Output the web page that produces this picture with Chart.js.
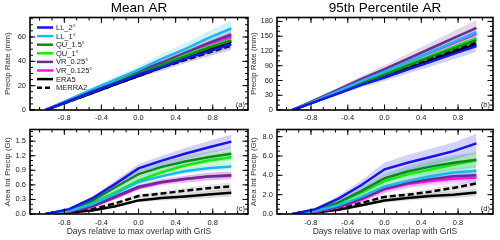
<!DOCTYPE html>
<html>
<head>
<meta charset="utf-8">
<script src="https://cdn.jsdelivr.net/npm/chart.js@4.4.1/dist/chart.umd.min.js"></script>
<style>
  body { margin: 0; width: 500px; height: 240px; background: #fff; position: relative; overflow: hidden; }
  .panel { position: absolute; }
</style>
</head>
<body>
<div class="panel" style="left:0;top:0;width:250px;height:121px"><canvas id="panelA"></canvas></div>
<div class="panel" style="left:246px;top:0;width:254px;height:121px"><canvas id="panelB"></canvas></div>
<div class="panel" style="left:0;top:121px;width:250px;height:119px"><canvas id="panelC"></canvas></div>
<div class="panel" style="left:246px;top:121px;width:254px;height:119px"><canvas id="panelD"></canvas></div>
<script>
// days relative to max overlap (x values of every series)
const days = [-1, -0.75, -0.5, -0.25, 0, 0.25, 0.5, 0.75, 1];

const seriesNames = ['LL_2°', 'LL_1°', 'QU_1.5°', 'QU_1°', 'VR_0.25°', 'VR_0.125°', 'ERA5', 'MERRA2'];
const seriesColors = ['#1414f0', '#18b8f2', '#0a8a1e', '#10ee10', '#6a2c8e', '#ff10ff', '#000000', '#000000'];
const bandColors = [
  'rgba(80,80,240,0.26)', 'rgba(40,190,245,0.22)', 'rgba(20,150,70,0.22)', 'rgba(40,240,40,0.2)',
  'rgba(130,70,170,0.22)', 'rgba(255,60,255,0.2)', 'rgba(0,0,0,0.14)', 'rgba(0,0,0,0.1)'
];

// (a) mean AR precip rate (mm)
const meanRate = [
  [0, 7.5, 15, 22, 29, 35, 42, 48, 54],
  [0, 8.5, 17, 25, 33, 42, 50, 59, 67],
  [0, 7.5, 15, 22, 30, 37, 44, 51, 57],
  [0, 7.5, 15, 23, 30, 37, 45, 52, 58],
  [0, 8, 16, 24, 32, 39, 47, 55, 62],
  [0, 8, 16, 24, 31, 38, 46, 53, 60],
  [0, 7, 14, 21, 28, 35, 42, 49, 56],
  [0, 7, 14, 21, 28, 35, 41, 47, 53]
];
const spreadRate = [
  [0, 0.6, 1.2, 1.8, 2.4, 3, 3.6, 4.2, 4.8],
  [0, 0.8, 1.6, 2.4, 3.2, 4, 4.8, 5.6, 6.4],
  [0, 0.4, 0.8, 1.2, 1.6, 2, 2.4, 2.8, 3.2],
  [0, 0.4, 0.9, 1.3, 1.8, 2.2, 2.6, 3, 3.4],
  [0, 0.6, 1.1, 1.7, 2.3, 2.9, 3.4, 4, 4.6],
  [0, 0.5, 1, 1.5, 2, 2.5, 3, 3.5, 4],
  [0, 0.3, 0.6, 0.9, 1.2, 1.5, 1.8, 2.1, 2.4],
  [0, 0.3, 0.6, 0.9, 1.2, 1.5, 1.8, 2.1, 2.4]
];

// (b) 95th percentile AR precip rate (mm)
const p95Rate = [
  [0, 17, 34, 51, 66, 82, 98, 114, 130],
  [0, 19, 39, 59, 78, 98, 118, 138, 158],
  [0, 18, 37, 55, 72, 90, 108, 125, 142],
  [0, 18, 37, 56, 74, 92, 110, 128, 146],
  [0, 21, 42, 63, 83, 104, 125, 146, 167],
  [0, 19, 39, 59, 78, 98, 117, 136, 155],
  [0, 17, 35, 52, 67, 84, 101, 118, 134],
  [0, 18, 37, 55, 71, 88, 105, 122, 138]
];
const spreadP95Rate = [
  [0, 2, 4, 5, 7, 8, 10, 11, 12],
  [0, 1, 2, 3, 4, 5, 6, 7, 8],
  [0, 1, 2, 3, 4, 5, 6, 6, 7],
  [0, 1, 2, 3, 4, 5, 6, 6, 7],
  [0, 2, 4, 6, 8, 10, 12, 14, 16],
  [0, 1, 2, 3, 4, 5, 6, 7, 8],
  [0, 1, 2, 2, 3, 4, 5, 5, 6],
  [0, 1, 2, 2, 3, 4, 5, 5, 6]
];

// (c) mean AR area integrated precip (Gt)
const meanArea = [
  [0, 0.1, 0.32, 0.62, 0.94, 1.1, 1.24, 1.37, 1.49],
  [0, 0.06, 0.2, 0.42, 0.66, 0.78, 0.88, 0.94, 0.98],
  [0, 0.08, 0.27, 0.55, 0.82, 0.97, 1.08, 1.17, 1.24],
  [0, 0.07, 0.22, 0.45, 0.69, 0.86, 1.0, 1.1, 1.17],
  [0, 0.05, 0.16, 0.36, 0.56, 0.66, 0.72, 0.77, 0.8],
  [0, 0.05, 0.15, 0.34, 0.54, 0.65, 0.72, 0.77, 0.79],
  [0, 0.03, 0.07, 0.16, 0.28, 0.33, 0.36, 0.4, 0.44],
  [0, 0.04, 0.1, 0.22, 0.37, 0.42, 0.48, 0.53, 0.57]
];
const spreadMeanArea = [
  [0, 0.02, 0.04, 0.07, 0.09, 0.1, 0.12, 0.13, 0.14],
  [0, 0.01, 0.02, 0.03, 0.04, 0.05, 0.05, 0.06, 0.06],
  [0, 0.02, 0.04, 0.06, 0.08, 0.1, 0.11, 0.12, 0.13],
  [0, 0.02, 0.04, 0.06, 0.08, 0.1, 0.11, 0.12, 0.13],
  [0, 0.01, 0.02, 0.04, 0.05, 0.06, 0.07, 0.08, 0.08],
  [0, 0.01, 0.02, 0.04, 0.05, 0.06, 0.07, 0.08, 0.08],
  [0, 0.01, 0.02, 0.03, 0.04, 0.05, 0.06, 0.07, 0.08],
  [0, 0.01, 0.02, 0.03, 0.04, 0.05, 0.06, 0.07, 0.08]
];

// (d) 95th percentile AR area integrated precip (Gt)
const p95Area = [
  [0, 0.5, 1.6, 3.0, 4.62, 5.3, 5.9, 6.5, 7.3],
  [0, 0.3, 0.9, 1.8, 2.85, 3.4, 3.9, 4.3, 4.47],
  [0, 0.4, 1.2, 2.4, 3.7, 4.4, 4.9, 5.3, 5.6],
  [0, 0.45, 1.15, 2.2, 3.4, 4.1, 4.6, 5.1, 5.55],
  [0, 0.25, 0.75, 1.6, 2.6, 3.2, 3.6, 3.9, 4.0],
  [0, 0.2, 0.7, 1.5, 2.54, 3.1, 3.4, 3.65, 3.78],
  [0, 0.15, 0.45, 0.9, 1.4, 1.65, 1.85, 2.0, 2.23],
  [0, 0.2, 0.6, 1.15, 1.77, 2.0, 2.3, 2.7, 3.16]
];
const spreadP95Area = [
  [0, 0.1, 0.3, 0.5, 0.7, 0.8, 0.85, 0.9, 1.0],
  [0, 0.05, 0.1, 0.2, 0.3, 0.35, 0.4, 0.45, 0.5],
  [0, 0.1, 0.2, 0.4, 0.5, 0.6, 0.7, 0.75, 0.8],
  [0, 0.1, 0.2, 0.4, 0.5, 0.6, 0.7, 0.75, 0.8],
  [0, 0.05, 0.15, 0.3, 0.4, 0.45, 0.5, 0.55, 0.6],
  [0, 0.05, 0.15, 0.3, 0.4, 0.45, 0.5, 0.55, 0.6],
  [0, 0.03, 0.08, 0.15, 0.2, 0.25, 0.3, 0.35, 0.4],
  [0, 0.03, 0.08, 0.15, 0.2, 0.25, 0.3, 0.35, 0.4]
];

const xTicks = [-0.8, -0.4, 0.0, 0.4, 0.8];
const rateTicks = [0, 20, 40, 60];
const p95RateTicks = [0, 30, 60, 90, 120, 150, 180];
const meanAreaTicks = [0, 0.3, 0.6, 0.9, 1.2, 1.5];
const p95AreaTicks = [0, 2, 4, 6, 8];

const FONT = '"Liberation Sans", Arial, sans-serif';
Chart.defaults.font.family = FONT;
Chart.defaults.color = '#222';

// frame, inward ticks on all sides, panel letter and legend
const panelFrame = {
  id: 'panelFrame',
  afterDatasetsDraw(chart, args, opts) {
    const { ctx, chartArea: a, scales: { x, y } } = chart;
    ctx.save();
    ctx.strokeStyle = '#000';
    ctx.lineWidth = 1;
    const tickAt = (scale, v, len) => {
      const p = scale.getPixelForValue(v);
      ctx.beginPath();
      if (scale.axis === 'x') {
        ctx.moveTo(p, a.bottom); ctx.lineTo(p, a.bottom - len);
        ctx.moveTo(p, a.top); ctx.lineTo(p, a.top + len);
      } else {
        ctx.moveTo(a.left, p); ctx.lineTo(a.left + len, p);
        ctx.moveTo(a.right, p); ctx.lineTo(a.right - len, p);
      }
      ctx.stroke();
    };
    [[x, opts.xMinor], [y, opts.yMinor]].forEach(([scale, step]) => {
      const start = Math.ceil((scale.min - 1e-9) / step);
      for (let k = start; k * step <= scale.max + 1e-9; k++) tickAt(scale, k * step, 3);
      scale.ticks.forEach(t => tickAt(scale, t.value, 5.5));
    });
    ctx.lineWidth = 1.6;
    ctx.strokeRect(a.left, a.top, a.right - a.left, a.bottom - a.top);

    ctx.fillStyle = '#222';
    ctx.font = '7.5px ' + FONT;
    ctx.textAlign = 'right';
    ctx.textBaseline = 'alphabetic';
    ctx.fillText(opts.label, a.right - 3, a.bottom - 3);

    if (opts.legend) {
      ctx.textAlign = 'left';
      ctx.textBaseline = 'middle';
      seriesNames.forEach((name, i) => {
        const ly = a.top + 10 + i * 8.6;
        ctx.strokeStyle = seriesColors[i];
        ctx.lineWidth = 2.5;
        ctx.setLineDash(name === 'MERRA2' ? [5, 3] : []);
        ctx.beginPath();
        ctx.moveTo(a.left + 7, ly);
        ctx.lineTo(a.left + 23, ly);
        ctx.stroke();
        ctx.fillText(name, a.left + 26, ly + 0.5);
      });
    }
    ctx.restore();
  }
};

function buildDatasets(means, spreads) {
  const sets = [];
  means.forEach((m, i) => {
    sets.push({
      data: days.map((d, j) => ({ x: d, y: m[j] + spreads[i][j] })),
      borderWidth: 0, pointRadius: 0, fill: false, order: 20
    });
    sets.push({
      data: days.map((d, j) => ({ x: d, y: Math.max(0, m[j] - spreads[i][j]) })),
      borderWidth: 0, pointRadius: 0, fill: '-1', backgroundColor: bandColors[i], order: 20
    });
  });
  means.forEach((m, i) => {
    sets.push({
      label: seriesNames[i],
      data: days.map((d, j) => ({ x: d, y: m[j] })),
      borderColor: seriesColors[i],
      borderWidth: 2.5,
      borderDash: seriesNames[i] === 'MERRA2' ? [6, 3] : [],
      pointRadius: 0,
      tension: 0,
      fill: false,
      order: 1
    });
  });
  return sets;
}

function makePanel(id, cfg) {
  new Chart(document.getElementById(id), {
    type: 'line',
    data: { datasets: buildDatasets(cfg.means, cfg.spreads) },
    plugins: [panelFrame],
    options: {
      responsive: true,
      maintainAspectRatio: false,
      animation: false,
      layout: { padding: { top: cfg.padTop, right: cfg.padRight, left: 0, bottom: 0 } },
      plugins: {
        legend: { display: false },
        tooltip: { enabled: false },
        title: {
          display: !!cfg.title,
          text: cfg.title,
          fullSize: false,
          color: '#000',
          font: { size: 13.5, weight: 'normal', lineHeight: 1 },
          padding: { top: 2, bottom: 2 }
        },
        panelFrame: { label: cfg.label, legend: cfg.legend, xMinor: 0.4 / 3, yMinor: cfg.yMinor }
      },
      scales: {
        x: {
          type: 'linear',
          min: -1.17,
          max: 1.18,
          grid: { display: false, drawTicks: false },
          border: { display: false },
          afterBuildTicks: s => { s.ticks = xTicks.map(v => ({ value: v })); },
          afterFit: s => { s.height = cfg.xHeight; },
          ticks: {
            font: { size: 7.5 },
            padding: cfg.xPad,
            maxRotation: 0,
            autoSkip: false,
            callback: v => v.toFixed(1)
          },
          title: {
            display: !!cfg.xTitle,
            text: cfg.xTitle,
            font: { size: 8.5 },
            color: '#333',
            padding: { top: 0, bottom: 3 }
          }
        },
        y: {
          min: 0,
          max: cfg.yMax,
          grid: { display: false, drawTicks: false },
          border: { display: false },
          afterBuildTicks: s => { s.ticks = cfg.yTicks.map(v => ({ value: v })); },
          afterFit: s => { s.width = cfg.yWidth; },
          ticks: {
            font: { size: 7.5 },
            padding: 4,
            autoSkip: false,
            callback: v => cfg.yDigits ? v.toFixed(cfg.yDigits) : String(v)
          },
          title: {
            display: true,
            text: cfg.yTitle,
            font: { size: 8 },
            color: '#333',
            padding: { top: 3, bottom: 0 }
          }
        }
      }
    }
  });
}

makePanel('panelA', {
  means: meanRate, spreads: spreadRate, title: 'Mean AR', label: '(a)', legend: true,
  yMax: 76, yTicks: rateTicks, yMinor: 5, yDigits: 0, yTitle: 'Precip Rate (mm)',
  padTop: 0, padRight: 2, yWidth: 30, xHeight: 11, xPad: 3
});
makePanel('panelB', {
  means: p95Rate, spreads: spreadP95Rate, title: '95th Percentile AR', label: '(b)', legend: false,
  yMax: 188, yTicks: p95RateTicks, yMinor: 10, yDigits: 0, yTitle: 'Precip Rate (mm)',
  padTop: 0, padRight: 7, yWidth: 31, xHeight: 11, xPad: 3
});
makePanel('panelC', {
  means: meanArea, spreads: spreadMeanArea, title: '', label: '(c)', legend: false,
  yMax: 1.74, yTicks: meanAreaTicks, yMinor: 0.1, yDigits: 1, yTitle: 'Area Int Precip (Gt)',
  xTitle: 'Days relative to max overlap with GrIS',
  padTop: 1, padRight: 2, yWidth: 30, xHeight: 26, xPad: 4
});
makePanel('panelD', {
  means: p95Area, spreads: spreadP95Area, title: '', label: '(d)', legend: false,
  yMax: 8.74, yTicks: p95AreaTicks, yMinor: 0.5, yDigits: 1, yTitle: 'Area Int Precip (Gt)',
  xTitle: 'Days relative to max overlap with GrIS',
  padTop: 1, padRight: 7, yWidth: 31, xHeight: 26, xPad: 4
});
</script>
</body>
</html>
